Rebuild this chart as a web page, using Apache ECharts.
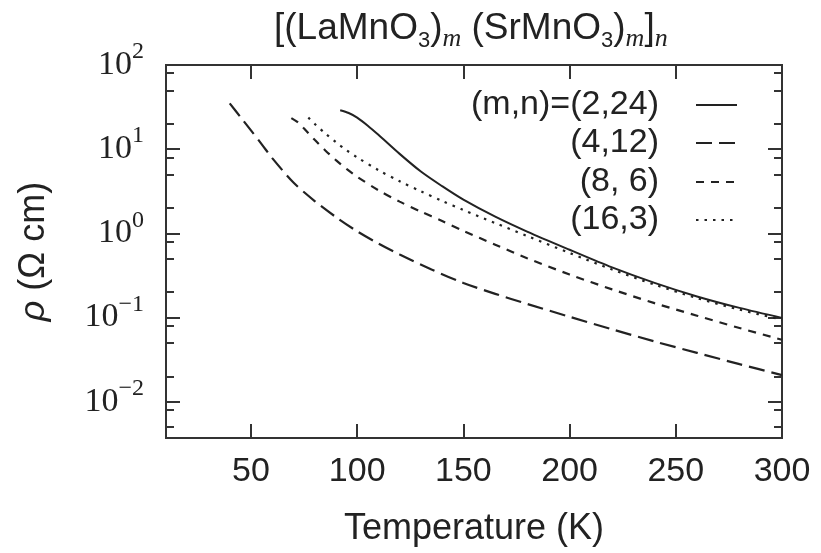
<!DOCTYPE html>
<html><head><meta charset="utf-8">
<script src="https://cdn.jsdelivr.net/npm/echarts@6/dist/echarts.min.js"></script>
<style>html,body{margin:0;padding:0;background:#fff}#c{width:821px;height:553px}</style>
</head><body><div id="c"></div>
<script>
// ---- data ----
const seriesNames = ['(m,n)=(2,24)', '(4,12)', '(8, 6)', '(16,3)'];

const T_2_24   = [92, 96, 100, 105, 110, 120, 130, 140, 150, 165, 180, 200, 220, 240, 260, 280, 300];
const rho_2_24 = [29.0, 26.9, 23.7, 19.0, 14.8, 8.79, 5.42, 3.63, 2.51, 1.576, 1.048, 0.638, 0.394, 0.258, 0.178, 0.130, 0.0989];

const T_4_12   = [40, 45, 50, 55, 60, 70, 80, 90, 100, 110, 120, 135, 150, 165, 180, 200, 220, 240, 260, 280, 300];
const rho_4_12 = [35.0, 24.2, 16.7, 11.5, 7.83, 4.02, 2.42, 1.56, 1.057, 0.757, 0.561, 0.372, 0.257, 0.191, 0.145, 0.102, 0.0724, 0.0519, 0.0380, 0.0279, 0.0207];

const T_8_6    = [69, 72, 75, 80, 85, 90, 95, 100, 110, 120, 130, 140, 150, 165, 180, 200, 220, 240, 260, 280, 300];
const rho_8_6  = [23.4, 20.9, 17.6, 12.9, 9.66, 7.41, 5.82, 4.70, 3.25, 2.38, 1.81, 1.40, 1.07, 0.733, 0.507, 0.324, 0.216, 0.148, 0.105, 0.075, 0.0543];

const T_16_3   = [77, 80, 85, 90, 95, 100, 110, 120, 130, 140, 150, 165, 180, 200, 220, 240, 260, 280, 300];
const rho_16_3 = [23.7, 19.95, 15.4, 12.1, 9.72, 7.99, 5.63, 4.16, 3.15, 2.43, 1.895, 1.323, 0.930, 0.584, 0.372, 0.246, 0.170, 0.124, 0.0943];

const xTickValues = [50, 100, 150, 200, 250, 300];
const yMajorValues = [0.01, 0.1, 1, 10, 100];
const yMinorValues = [0.005, 0.008, 0.02, 0.05, 0.08, 0.2, 0.5, 0.8, 2, 5, 8, 20, 50, 80];

// ---- chart ----
const ink = '#222';
const dashes = ['solid', [16, 7], [8, 7], [2.5, 6]];
const datasets = [[T_2_24, rho_2_24], [T_4_12, rho_4_12], [T_8_6, rho_8_6], [T_16_3, rho_16_3]];
const legendCenters = [105, 143, 182, 220];

const chart = echarts.init(document.getElementById('c'), null, {renderer: 'canvas'});

function yLabel(v) {
  const e = Math.round(Math.log10(v));
  const es = String(e).replace('-', '\u2212');
  return '{b|10}{e|' + es + '}';
}

const yBase = {
  type: 'log', logBase: 10, min: 0.0037, max: 100,
  axisLine: {show: false}, splitLine: {show: false},
  nameMoveOverlap: false
};

chart.setOption({
  animation: false,
  backgroundColor: '#fff',
  title: {
    text: '{n|[(LaMnO}{s|3}{n|)}{i|m}{n| (SrMnO}{s|3}{n|)}{i|m}{n|]}{i|n}',
    left: 274, top: 6, padding: 0,
    textStyle: {
      fontWeight: 'normal',
      rich: {
        n: {fontFamily: 'Liberation Sans', fontWeight: 'normal', fontSize: 37, color: ink, lineHeight: 46},
        s: {fontFamily: 'Liberation Sans', fontWeight: 'normal', fontSize: 22, color: ink, lineHeight: 22, verticalAlign: 'bottom'},
        i: {fontFamily: 'Liberation Serif', fontWeight: 'normal', fontStyle: 'italic', fontSize: 26, color: ink, lineHeight: 22, verticalAlign: 'bottom'}
      }
    }
  },
  legend: seriesNames.map((n, i) => ({
    data: [n], orient: 'vertical', align: 'right', right: 83, top: legendCenters[i] - 18,
    padding: 0, itemWidth: 41, itemHeight: 2, selectedMode: false,
    itemStyle: {color: 'rgba(0,0,0,0)', borderWidth: 0, borderColor: 'rgba(0,0,0,0)'},
    textStyle: {fontFamily: 'Liberation Sans', fontSize: 34, color: ink, lineHeight: 36, padding: [0, 32, 0, 0]}
  })),
  grid: {left: 166, right: 39, top: 65, bottom: 115, show: true, borderColor: '#333', borderWidth: 2, containLabel: false, outerBoundsMode: 'none'},
  xAxis: [
    {
      type: 'value', min: 10, max: 300, position: 'bottom',
      name: 'Temperature (K)', nameLocation: 'middle', nameGap: 72, nameMoveOverlap: false,
      nameTextStyle: {fontFamily: 'Liberation Sans', fontSize: 36, color: ink, lineHeight: 38},
      axisLine: {show: false}, splitLine: {show: false},
      axisTick: {show: true, inside: true, length: 14, customValues: xTickValues, lineStyle: {color: '#333', width: 2}},
      axisLabel: {show: true, customValues: xTickValues, margin: 16, fontFamily: 'Liberation Sans', fontSize: 34, color: ink, lineHeight: 36}
    },
    {
      type: 'value', min: 10, max: 300, position: 'top',
      axisLine: {show: false}, splitLine: {show: false},
      axisTick: {show: true, inside: true, length: 14, customValues: xTickValues, lineStyle: {color: '#333', width: 2}},
      axisLabel: {show: false}
    }
  ],
  yAxis: [
    Object.assign({}, yBase, {
      position: 'left',
      name: '{i|\u03c1} (\u03a9 cm)', nameLocation: 'middle', nameGap: 113,
      nameTextStyle: {fontFamily: 'Liberation Sans', fontSize: 36, color: ink, lineHeight: 38,
        rich: {i: {fontFamily: 'Liberation Sans', fontStyle: 'italic', fontSize: 36, color: ink, lineHeight: 38}}},
      axisTick: {show: true, inside: true, length: 14, customValues: yMajorValues, lineStyle: {color: '#333', width: 2}},
      axisLabel: {
        show: true, customValues: yMajorValues, margin: 22, formatter: yLabel,
        rich: {
          b: {fontFamily: 'Liberation Serif', fontSize: 34, color: ink, lineHeight: 50, verticalAlign: 'middle'},
          e: {fontFamily: 'Liberation Serif', fontSize: 24, color: ink, lineHeight: 26, verticalAlign: 'top'}
        }
      }
    }),
    Object.assign({}, yBase, {
      position: 'left',
      axisTick: {show: true, inside: true, length: 8, customValues: yMinorValues, lineStyle: {color: '#333', width: 2}},
      axisLabel: {show: false}
    }),
    Object.assign({}, yBase, {
      position: 'right',
      axisTick: {show: true, inside: true, length: 14, customValues: yMajorValues, lineStyle: {color: '#333', width: 2}},
      axisLabel: {show: false}
    }),
    Object.assign({}, yBase, {
      position: 'right',
      axisTick: {show: true, inside: true, length: 8, customValues: yMinorValues, lineStyle: {color: '#333', width: 2}},
      axisLabel: {show: false}
    })
  ],
  series: seriesNames.map((n, i) => ({
    name: n, type: 'line', xAxisIndex: 0, yAxisIndex: 0,
    data: datasets[i][0].map((t, k) => [t, datasets[i][1][k]]),
    symbol: 'none', showSymbol: false, smooth: 0.3,
    color: ink,
    lineStyle: {color: ink, width: i === 0 ? 2 : 2.2, type: dashes[i]},
    emphasis: {disabled: true}
  }))
});
</script>
</body></html>
